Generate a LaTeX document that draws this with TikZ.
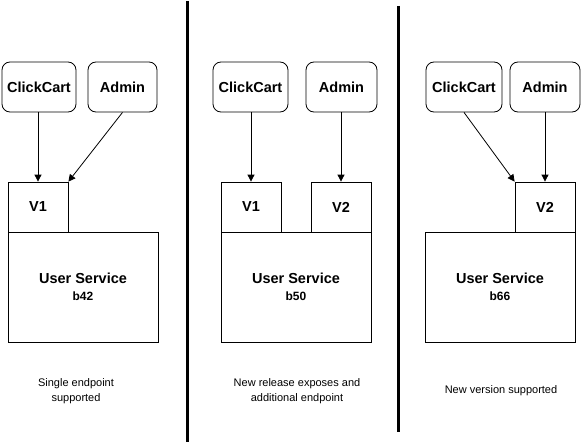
\documentclass[tikz,border=0pt]{standalone}
\usepackage{fontspec}
\setmainfont{Liberation Sans}
\usetikzlibrary{arrows.meta}
\begin{document}
\begin{tikzpicture}[x=1pt,y=-1pt,
  client/.style={draw=black,line width=0.8pt,rounded corners=8pt,minimum width=72pt,minimum height=50pt,inner sep=0pt,font=\bfseries\fontsize{14.5}{16}\selectfont},
  ver/.style={draw=black,line width=0.8pt,minimum width=60pt,minimum height=50pt,inner sep=0pt,font=\bfseries\fontsize{14.5}{16}\selectfont},
  svc/.style={draw=black,line width=0.8pt,minimum width=150pt,minimum height=110pt,inner sep=0pt,align=center,font=\bfseries},
  captext/.style={align=center,font=\fontsize{11}{15}\selectfont,inner sep=0pt},
  conn/.style={draw=black,line width=0.8pt,-{Triangle[length=7pt,width=7pt]}},
  divider/.style={draw=black,line width=3pt}]
\useasboundingbox (0,0) rectangle (581,444);
\newcommand{\svclabel}[1]{{\fontsize{14.5}{17}\selectfont User Service}\\[5pt]{\fontsize{12}{14}\selectfont #1}}

% Panel 1
\node[client,minimum width=74pt] (cc1) at (39,87) {ClickCart};
\node[client,minimum width=69pt] (ad1) at (122.5,87) {Admin};
\node[svc] (us1) at (83,287) {\svclabel{b42}};
\node[ver] (v1a) at (38,207) {V1};
\draw[conn] (cc1.south -| v1a.north) -- (v1a.north);
\draw[conn] (ad1.south) -- (v1a.north east);

% Panel 2
\node[client,minimum width=75pt] (cc2) at (250.5,87) {ClickCart};
\node[client,minimum width=71pt] (ad2) at (341.5,87) {Admin};
\node[svc] (us2) at (296,287) {\svclabel{b50}};
\node[ver] (v1b) at (251,207) {V1};
\node[ver] (v2b) at (341,207) {V2};
\draw[conn] (cc2.south -| v1b.north) -- (v1b.north);
\draw[conn] (ad2.south -| v2b.north) -- (v2b.north);

% Panel 3
\node[client,minimum width=76pt] (cc3) at (464,87) {ClickCart};
\node[client,minimum width=70pt] (ad3) at (545,87) {Admin};
\node[svc] (us3) at (500,287) {\svclabel{b66}};
\node[ver] (v2c) at (545,207) {V2};
\draw[conn] (cc3.south) -- (v2c.north west);
\draw[conn] (ad3.south -| v2c.north) -- (v2c.north);

% Dividers
\coordinate (d1t) at (187.5,1);
\coordinate (d1b) at (187.5,442);
\coordinate (d2t) at (398,6);
\coordinate (d2b) at (398,432);
\draw[divider] (d1t) -- (d1b);
\draw[divider] (d2t) -- (d2b);

% Captions
\node[captext] (c1) at (76,391) {Single endpoint\\supported};
\node[captext] (c2) at (297,391) {New release exposes and\\additional endpoint};
\node[captext] (c3) at (501,391) {New version supported};
\end{tikzpicture}
\end{document}
